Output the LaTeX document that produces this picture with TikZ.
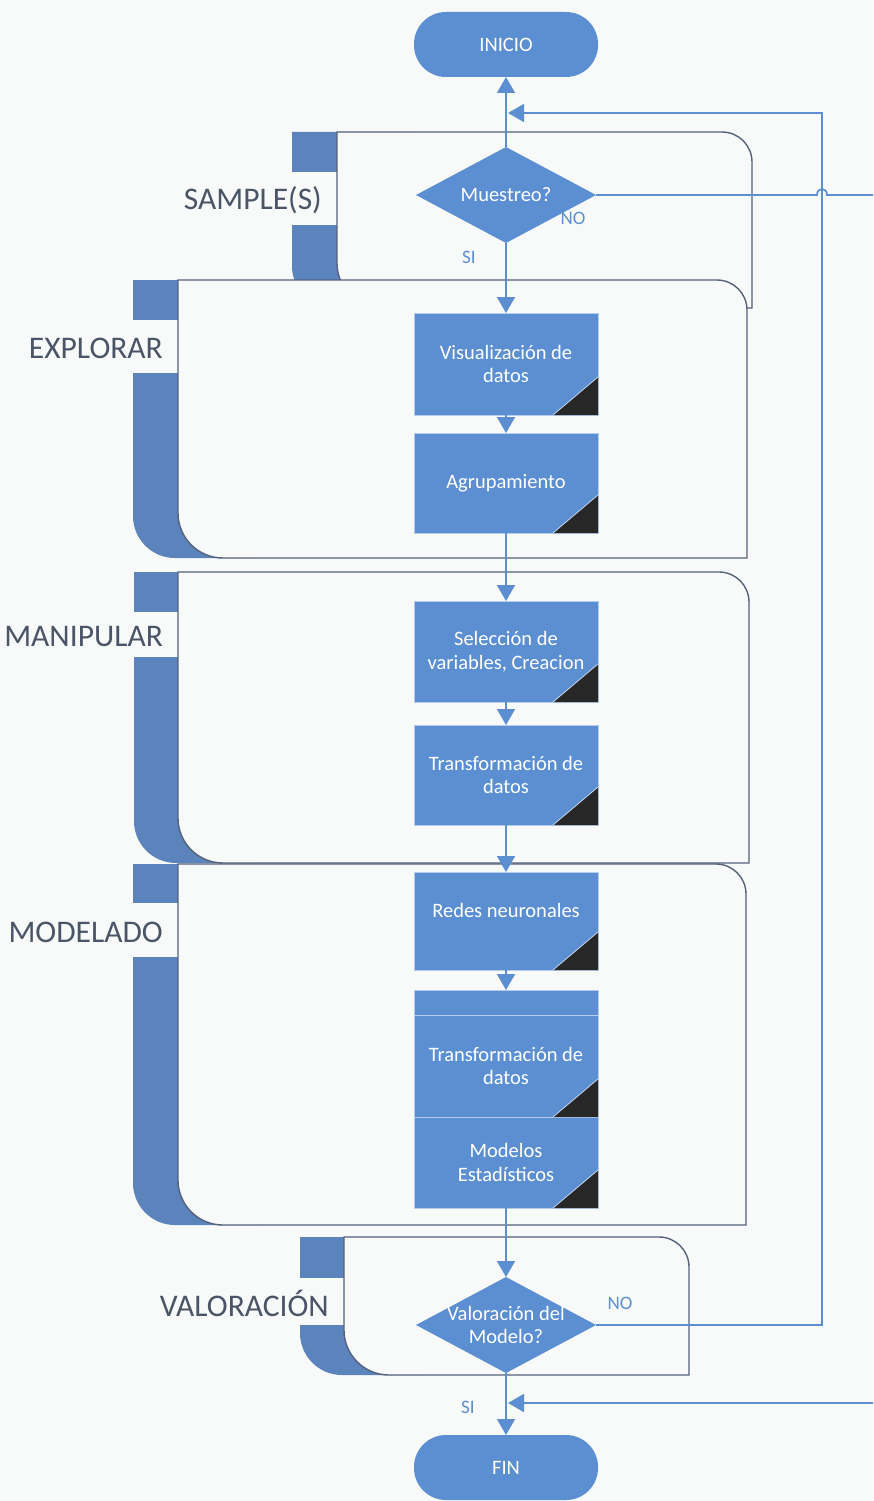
\documentclass[tikz,border=0pt]{standalone}
\usepackage{fontspec}
\setmainfont{Carlito}
\usetikzlibrary{positioning,arrows.meta,shapes.geometric}

\definecolor{boxblue}{HTML}{5B8FD1}
\definecolor{barblue}{HTML}{5B83BC}
\definecolor{framegray}{HTML}{55627C}
\definecolor{lblgray}{HTML}{4B5568}
\definecolor{foldblack}{HTML}{272727}
\definecolor{pagebg}{HTML}{F8F9F9}

\tikzset{
  procbox/.style={rectangle, fill=boxblue, draw=boxblue!45!white, line width=0.8pt,
    minimum width=184pt, inner sep=2pt, outer sep=0pt, text=white, align=center,
    font=\fontsize{20.5}{23.5}\selectfont},
  decision/.style={diamond, fill=boxblue, minimum width=180pt, minimum height=96pt,
    inner sep=0pt, outer sep=0pt},
  dectext/.style={text=white, align=center, inner sep=0pt, font=\fontsize{20.5}{23.5}\selectfont},
  terminal/.style={rectangle, rounded corners=32pt, fill=boxblue, minimum width=184pt,
    minimum height=65pt, outer sep=0pt, text=white, font=\fontsize{20.5}{23.5}\selectfont},
  arr/.style={draw=boxblue, line width=1.7pt, line join=miter, -{Triangle[width=18pt,length=16pt]}},
  branch/.style={text=boxblue, inner sep=0pt, font=\fontsize{19}{22}\selectfont},
  phaselbl/.style={text=lblgray, inner sep=0pt, font=\fontsize{31.5}{36}\selectfont},
  frame/.style={fill=pagebg, draw=framegray, line width=1.4pt},
}

% #1 bar left, #2 frame left, #3 frame right, #4 top, #5 bottom,
% #6/#7 label gap, #8 name, #9 label
\newcommand{\phase}[9]{%
  \fill[barblue] (#1,-#4) -- (#1,-#5+42) arc[start angle=180,end angle=270,radius=42]
    -- (#2+80,-#5) -- (#2+80,-#4) -- cycle;
  \fill[pagebg] (#1-1,-#6) rectangle (#2,-#7);
  \filldraw[frame] (#2,-#4) -- (#3-30,-#4) arc[start angle=90,end angle=0,radius=30]
    -- (#3,-#5) -- (#2+45,-#5) arc[start angle=270,end angle=180,radius=45] -- cycle;
  \node[phaselbl, anchor=east] (#8) at ({#2-15},{-(#6+#7)/2-2}) {#9};
}

\begin{document}
\begin{tikzpicture}[x=1pt,y=1pt]
  % Page
  \path[use as bounding box, fill=pagebg] (0,0) rectangle (873,-1501);
  \clip (0,0) rectangle (873,-1501);

  % Phases
  \phase{292}{337}{752}{132}{308}{172}{225}{sample}{SAMPLE(S)}
  \phase{133}{178}{747}{280}{558}{320}{373}{explorar}{EXPLORAR}
  \phase{134}{178}{749}{572}{863}{612}{657}{manipular}{MANIPULAR}
  \phase{133}{178}{746}{864}{1225}{903}{957}{modelado}{MODELADO}
  \phase{300}{344}{689}{1237}{1375}{1278}{1325}{valoracion}{VALORACIÓN}

  % Start / end
  \node[terminal] (ini) at (506,-44.5) {INICIO};
  \node[terminal] (fin) at (506,-1467.5) {FIN};

  % Decisions
  \node[decision, label={[dectext, name=muetxt]center:Muestreo?}] (mue) at (506,-195) {};
  \node[decision, label={[dectext, name=valtxt]center:Valoración del\\Modelo?}] (val) at (506,-1325) {};

  % Steps
  \node[procbox, minimum height=102pt] (vis) at (506,-364) {Visualización de\\datos};
  \node[procbox, minimum height=100pt] (agr) at (506,-483) {Agrupamiento};
  \node[procbox, minimum height=101pt] (sel) at (506,-651.5) {Selección de\\variables, Creacion};
  \node[procbox, minimum height=100pt] (tra1) at (506,-775) {Transformación de\\datos};
  \node[procbox, minimum height=98pt] (red) at (506,-921) {\raisebox{4pt}[0pt][0pt]{Redes neuronales}};
  \node[procbox, minimum height=100pt] (back) at (506,-1040) {};
  \node[procbox, minimum height=102pt] (tra2) at (506,-1066) {Transformación de\\datos};
  \node[procbox, minimum height=91pt] (mod) at (506,-1162.5) {Modelos\\Estadísticos};

  % Main flow
  \draw[arr] (mue) -- (ini);
  \draw[arr] (mue) -- (vis);
  \draw[arr] (vis) -- (agr);
  \draw[arr] (agr) -- (sel);
  \draw[arr] (sel) -- (tra1);
  \draw[arr] (tra1) -- (red);
  \draw[arr] (red) -- (back);
  \draw[arr] (mod) -- (val);
  \draw[arr] (val) -- (fin);

  % Model rejected: back to the start
  \coordinate (rb) at (822,-1325);
  \coordinate (rt) at (822,-113);
  \coordinate (loopin) at (508,-113);
  \draw[arr] (val.east) -- (rb) -- (rt) -- (loopin);

  % No sampling: straight to the end
  \coordinate (hopa) at (817,-195);
  \coordinate (hopb) at (827,-195);
  \coordinate (farup) at (900,-195);
  \coordinate (fardn) at (900,-1403);
  \coordinate (finin) at (508,-1403);
  \draw[arr] (mue.east) -- (hopa) .. controls (817,-187) and (827,-187) .. (hopb)
    -- (farup) -- (fardn) -- (finin);

  % Branch labels
  \node[branch] (nomue) at (573,-218) {NO};
  \node[branch] (simue) at (469,-257) {SI};
  \node[branch] (noval) at (620,-1303) {NO};
  \node[branch] (sival) at (468,-1407) {SI};

  % Folded corners
  \foreach \b in {vis,agr,sel,tra1,red,tra2,mod} {
    \fill[foldblack] (\b.south east) -- ++(-45,0) -- ++(45,38) -- cycle;
    \draw[boxblue!35!white, line width=0.8pt] (\b.south east) ++(-45,0) -- ++(45,38);
  }
\end{tikzpicture}
\end{document}
